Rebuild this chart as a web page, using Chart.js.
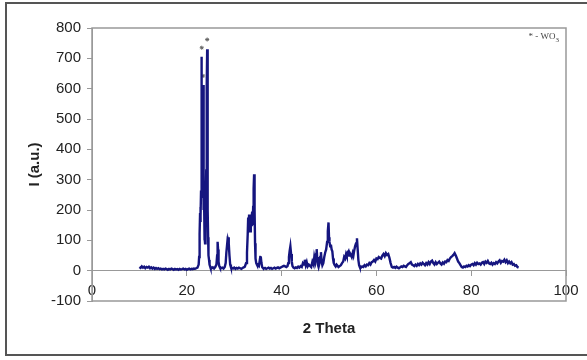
<!DOCTYPE html>
<html>
<head>
<meta charset="utf-8">
<script src="https://cdn.jsdelivr.net/npm/chart.js@4"></script>
<style>
body { margin: 0; background: #fff; }
#wrap { position: relative; width: 587px; height: 360px; overflow: hidden; }
#frame { position: absolute; left: 5px; top: 2px; width: 600px; height: 350px; border: 2px solid #555; }
canvas { position: absolute; left: 0; top: 0; }
</style>
</head>
<body>
<div id="wrap"><div id="frame"></div><canvas id="xrd" width="587" height="360"></canvas></div>
<script>
// 2 theta (deg) / intensity (a.u.)
const theta = [
 10.0, 10.25, 10.5, 10.75, 11.0, 11.25, 11.5, 11.75, 12.0, 12.25, 12.5, 12.75, 13.0, 13.25, 13.5, 13.75,
 14.0, 14.25, 14.5, 14.75, 15.0, 15.25, 15.5, 15.75, 16.0, 16.25, 16.5, 16.75, 17.0, 17.25, 17.5, 17.75,
 18.0, 18.25, 18.5, 18.75, 19.0, 19.25, 19.5, 19.75, 20.0, 20.25, 20.5, 20.75, 21.0, 21.25, 21.5, 21.75,
 22.0, 22.25, 22.5, 22.6, 22.7, 22.8, 22.85, 22.9, 22.95, 23.0, 23.05, 23.1, 23.15, 23.2, 23.25, 23.3,
 23.35, 23.4, 23.45, 23.5, 23.55, 23.6, 23.65, 23.7, 23.75, 23.8, 23.85, 23.9, 24.0, 24.1, 24.15, 24.2,
 24.25, 24.3, 24.35, 24.4, 24.45, 24.5, 24.55, 24.6, 24.7, 24.8, 24.9, 25.0, 25.25, 25.5, 25.75, 26.0,
 26.25, 26.4, 26.5, 26.6, 26.7, 26.85, 27.0, 27.25, 27.5, 27.75, 28.0, 28.2, 28.35, 28.5, 28.6, 28.7,
 28.8, 28.9, 29.0, 29.15, 29.3, 29.5, 29.75, 30.0, 30.25, 30.5, 30.75, 31.0, 31.25, 31.5, 31.75, 32.0,
 32.25, 32.5, 32.7, 32.85, 32.95, 33.05, 33.15, 33.25, 33.35, 33.5, 33.6, 33.7, 33.8, 33.9, 34.0, 34.1,
 34.2, 34.3, 34.4, 34.5, 34.65, 34.8, 35.0, 35.2, 35.35, 35.5, 35.6, 35.75, 35.9, 36.0, 36.25, 36.5,
 36.75, 37.0, 37.25, 37.5, 37.75, 38.0, 38.25, 38.5, 38.75, 39.0, 39.25, 39.5, 39.75, 40.0, 40.25, 40.5,
 40.75, 41.0, 41.25, 41.4, 41.55, 41.7, 41.85, 42.0, 42.15, 42.3, 42.5, 42.75, 43.0, 43.25, 43.5, 43.75,
 44.0, 44.25, 44.5, 44.75, 44.9, 45.1, 45.3, 45.5, 45.75, 46.0, 46.25, 46.5, 46.75, 46.9, 47.1, 47.3,
 47.4, 47.5, 47.65, 47.8, 48.0, 48.15, 48.3, 48.45, 48.6, 48.8, 49.0, 49.2, 49.4, 49.6, 49.75, 49.9,
 50.0, 50.1, 50.25, 50.4, 50.55, 50.7, 50.85, 51.0, 51.2, 51.4, 51.6, 51.8, 52.0, 52.25, 52.5, 52.75,
 53.0, 53.2, 53.4, 53.6, 53.75, 53.9, 54.1, 54.25, 54.4, 54.6, 54.8, 55.0, 55.15, 55.3, 55.5, 55.7,
 55.9, 56.05, 56.2, 56.35, 56.5, 56.75, 57.0, 57.25, 57.5, 57.75, 58.0, 58.25, 58.5, 58.75, 59.0, 59.25,
 59.5, 59.75, 60.0, 60.25, 60.5, 60.75, 61.0, 61.25, 61.5, 61.75, 62.0, 62.25, 62.5, 62.75, 63.0, 63.25,
 63.5, 63.75, 64.0, 64.25, 64.5, 64.75, 65.0, 65.25, 65.5, 65.75, 66.0, 66.25, 66.5, 66.75, 67.0, 67.25,
 67.5, 67.75, 68.0, 68.25, 68.5, 68.75, 69.0, 69.25, 69.5, 69.75, 70.0, 70.25, 70.5, 70.75, 71.0, 71.25,
 71.5, 71.75, 72.0, 72.25, 72.5, 72.75, 73.0, 73.25, 73.5, 73.75, 74.0, 74.25, 74.5, 74.75, 75.0, 75.25,
 75.5, 75.75, 76.0, 76.25, 76.5, 76.75, 77.0, 77.25, 77.5, 77.75, 78.0, 78.25, 78.5, 78.75, 79.0, 79.25,
 79.5, 79.75, 80.0, 80.25, 80.5, 80.75, 81.0, 81.25, 81.5, 81.75, 82.0, 82.25, 82.5, 82.75, 83.0, 83.25,
 83.5, 83.75, 84.0, 84.25, 84.5, 84.75, 85.0, 85.25, 85.5, 85.75, 86.0, 86.25, 86.5, 86.75, 87.0, 87.25,
 87.5, 87.75, 88.0, 88.25, 88.5, 88.75, 89.0, 89.25, 89.5, 89.75, 90.0
];
const intensity = [
 12, 9, 14, 10, 13, 8, 12, 10, 13, 8, 11, 7, 10, 6, 9, 6,
 8, 5, 7, 4, 6, 4, 7, 5, 3, 6, 4, 7, 5, 3, 6, 4,
 5, 3, 6, 4, 5, 7, 4, 6, 3, 5, 7, 4, 6, 5, 7, 6,
 8, 10, 20, 45, 120, 190, 160, 210, 180, 260, 480, 640, 705, 590, 300, 240,
 320, 520, 612, 500, 235, 200, 230, 150, 100, 110, 90, 120, 200, 330, 400, 430,
 600, 730, 690, 420, 200, 110, 60, 50, 35, 20, 15, 10, 8, 11, 7, 12,
 20, 50, 95, 70, 30, 15, 10, 8, 10, 7, 12, 25, 60, 85, 75, 100,
 110, 90, 50, 20, 12, 9, 7, 10, 6, 9, 7, 10, 8, 6, 9, 11,
 13, 25, 60, 120, 175, 150, 185, 160, 130, 170, 150, 180, 195, 150, 210, 270,
 318, 200, 90, 40, 25, 20, 18, 15, 30, 45, 47, 25, 12, 10, 7, 9,
 6, 8, 10, 7, 9, 6, 8, 10, 7, 9, 11, 8, 10, 12, 14, 16,
 14, 12, 15, 25, 45, 65, 80, 55, 30, 15, 10, 8, 11, 9, 13, 10,
 15, 12, 25, 20, 36, 18, 28, 14, 20, 16, 12, 30, 20, 45, 30, 55,
 71, 45, 20, 12, 25, 45, 61, 30, 18, 25, 45, 60, 70, 95, 130, 159,
 110, 95, 80, 86, 70, 64, 40, 25, 18, 14, 20, 16, 12, 15, 18, 25,
 30, 45, 40, 55, 48, 60, 64, 50, 58, 52, 45, 58, 50, 65, 80, 90,
 107, 70, 35, 18, 12, 10, 14, 12, 18, 14, 20, 18, 25, 20, 28, 30,
 35, 30, 40, 38, 45, 42, 40, 50, 55, 48, 58, 52, 55, 42, 25, 12,
 10, 12, 9, 13, 10, 8, 11, 14, 12, 16, 14, 12, 18, 22, 25, 28,
 20, 18, 15, 20, 16, 22, 18, 24, 20, 26, 22, 18, 25, 20, 28, 22,
 30, 33, 25, 20, 28, 22, 26, 30, 24, 20, 27, 23, 30, 28, 35, 32,
 40, 45, 48, 52, 58, 50, 40, 30, 25, 18, 12, 10, 14, 12, 16, 14,
 18, 15, 20, 22, 18, 25, 20, 26, 22, 24, 20, 26, 28, 22, 30, 26,
 32, 24, 22, 26, 20, 25, 22, 28, 24, 30, 34, 26, 32, 30, 36, 28,
 34, 25, 30, 24, 28, 20, 22, 16, 18, 12, 10
];
// WO3 peak markers
const starTheta = [23.15, 23.45, 24.3];
const starIntensity = [735, 642, 762];

const xTicks = { min: 0, max: 100, step: 20 };
const yTicks = { min: -100, max: 800, step: 100 };

const tickFont = { family: "'Liberation Sans', Arial, sans-serif", size: 15 };
const titleFont = { family: "'Liberation Sans', Arial, sans-serif", size: 15, weight: "bold" };

const plotBox = {
 id: "plotBox",
 beforeDatasetsDraw(chart) {
 const { ctx, chartArea: a } = chart;
 ctx.save();
 ctx.strokeStyle = "#999";
 ctx.lineWidth = 1.5;
 ctx.strokeRect(a.left, a.top, a.right - a.left, a.bottom - a.top);
 ctx.restore();
 },
 afterDraw(chart) {
 const { ctx, chartArea: a } = chart;
 ctx.save();
 ctx.fillStyle = "#444";
 ctx.textBaseline = "middle";
 ctx.font = "9px 'Liberation Serif', 'DejaVu Serif', serif";
 const sub = "3";
 const subW = ctx.measureText(sub).width;
 const label = "* - WO";
 const w = ctx.measureText(label).width;
 const right = a.right - 6;
 ctx.fillText(label, right - subW - w, a.top + 9);
 ctx.font = "7px 'Liberation Serif', 'DejaVu Serif', serif";
 ctx.fillText(sub, right - subW, a.top + 12);
 ctx.restore();
 }
};

const points = theta.map((t, i) => ({ x: t, y: intensity[i] }));
const stars = starTheta.map((t, i) => ({ x: t, y: starIntensity[i] }));

new Chart(document.getElementById("xrd"), {
 type: "scatter",
 data: {
 datasets: [
 {
 data: points,
 showLine: true,
 borderColor: "#15157f",
 borderWidth: 2.4,
 pointRadius: 0,
 tension: 0
 },
 {
 data: stars,
 pointStyle: "star",
 pointRadius: 2,
 borderColor: "#666",
 borderWidth: 1,
 backgroundColor: "#666"
 }
 ]
 },
 options: {
 responsive: false,
 animation: false,
 layout: { padding: { left: 0, right: 21, top: 28, bottom: 59 } },
 plugins: { legend: { display: false }, tooltip: { enabled: false } },
 scales: {
 x: {
 type: "linear",
 min: xTicks.min,
 max: xTicks.max,
 position: { y: 0 },
 ticks: { stepSize: xTicks.step, padding: 6, color: "#222", font: tickFont },
 grid: { drawOnChartArea: false, tickLength: 5, color: "#999" },
 border: { color: "#999", width: 1 },
 title: { display: true, text: "2 Theta", color: "#222", font: titleFont, padding: { top: 14, bottom: 0 } }
 },
 y: {
 min: yTicks.min,
 max: yTicks.max,
 ticks: { stepSize: yTicks.step, padding: 6, color: "#222", font: tickFont },
 grid: { drawOnChartArea: false, tickLength: 5, color: "#999" },
 border: { color: "#999", width: 1 },
 title: { display: true, text: "I (a.u.)", color: "#222", font: titleFont, padding: { top: 26, bottom: 0 } },
 afterFit(scale) { scale.width = 92; }
 }
 }
 },
 plugins: [plotBox]
});
</script>
</body>
</html>
